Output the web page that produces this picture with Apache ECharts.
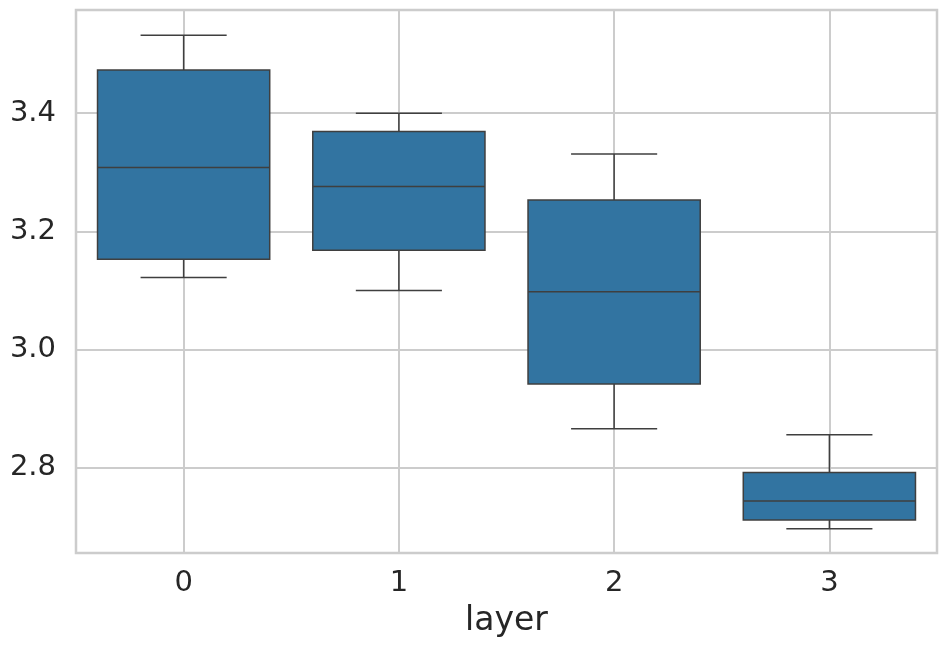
<!DOCTYPE html>
<html>
<head>
<meta charset="utf-8">
<script src="https://cdn.jsdelivr.net/npm/echarts@6/dist/echarts.min.js"></script>
<style>
  html, body { margin: 0; padding: 0; background: #fff; }
  #chart { width: 948px; height: 648px; }
</style>
</head>
<body>
<div id="chart"></div>
<script>
// box statistics per layer
var layers = [0, 1, 2, 3];
var whiskerLow = [3.122, 3.100, 2.866, 2.697];
var q1 = [3.153, 3.168, 2.942, 2.712];
var median = [3.308, 3.276, 3.098, 2.744];
var q3 = [3.473, 3.369, 3.253, 2.792];
var whiskerHigh = [3.532, 3.400, 3.331, 2.856];

var BOX_FILL = '#3274a1';
var EDGE = '#3f3f3f';
var TEXT = '#262626';
var GRID = '#cccccc';

function renderBox(params, api) {
	var x = api.value(0);
	var lo = api.coord([x, api.value(1)]);
	var b1 = api.coord([x, api.value(2)]);
	var md = api.coord([x, api.value(3)]);
	var b3 = api.coord([x, api.value(4)]);
	var hi = api.coord([x, api.value(5)]);
	var w = api.size([0.8, 0])[0];
	var c = w / 4;
	var cx = lo[0];
	var line = { stroke: EDGE, lineWidth: 1.5 };
	return {
		type: 'group',
		children: [
			{ type: 'line', shape: { x1: cx, y1: b3[1], x2: cx, y2: hi[1] }, style: line },
			{ type: 'line', shape: { x1: cx, y1: b1[1], x2: cx, y2: lo[1] }, style: line },
			{ type: 'line', shape: { x1: cx - c, y1: hi[1], x2: cx + c, y2: hi[1] }, style: line },
			{ type: 'line', shape: { x1: cx - c, y1: lo[1], x2: cx + c, y2: lo[1] }, style: line },
			{ type: 'rect', shape: { x: cx - w / 2, y: b3[1], width: w, height: b1[1] - b3[1] },
				style: { fill: BOX_FILL, stroke: EDGE, lineWidth: 1.5 } },
			{ type: 'line', shape: { x1: cx - w / 2, y1: md[1], x2: cx + w / 2, y2: md[1] }, style: line }
		]
	};
}

var data = [];
for (var i = 0; i < layers.length; i++) {
	data.push([layers[i], whiskerLow[i], q1[i], median[i], q3[i], whiskerHigh[i]]);
}

var myChart = echarts.init(document.getElementById('chart'));
var option = {
	backgroundColor: '#ffffff',
	animation: false,
	grid: {
		left: 76, right: 11, top: 10, bottom: 95,
		show: true, borderColor: GRID, borderWidth: 2.5
	},
	xAxis: {
		type: 'value',
		min: -0.5,
		max: 3.5,
		splitNumber: 4,
		name: 'layer',
		nameLocation: 'middle',
		nameGap: 52,
		nameTextStyle: { fontFamily: 'DejaVu Sans', fontSize: 33, color: TEXT },
		axisLine: { show: false },
		axisTick: { show: false },
		axisLabel: {
			fontFamily: 'DejaVu Sans', fontSize: 29, color: TEXT, margin: 16,
			showMinLabel: false, showMaxLabel: false
		},
		splitLine: { show: true, lineStyle: { color: GRID, width: 2 } }
	},
	yAxis: {
		type: 'value',
		min: 2.656,
		max: 3.5746,
		splitNumber: 5,
		axisLine: { show: false },
		axisTick: { show: false },
		axisLabel: {
			fontFamily: 'DejaVu Sans', fontSize: 29, color: TEXT, margin: 20,
			showMinLabel: false, showMaxLabel: false,
			formatter: function(v) { return v.toFixed(1); }
		},
		splitLine: { show: true, lineStyle: { color: GRID, width: 2 } }
	},
	series: [{
		type: 'custom',
		renderItem: renderBox,
		encode: { x: 0, y: [1, 2, 3, 4, 5] },
		data: data
	}]
};
myChart.setOption(option);
</script>
</body>
</html>
